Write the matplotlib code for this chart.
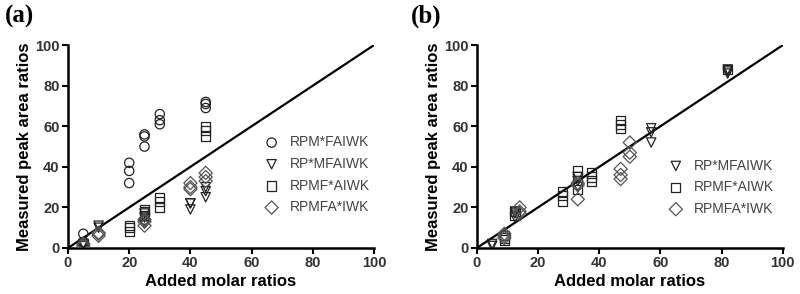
import matplotlib
matplotlib.use("Agg")
import matplotlib.pyplot as plt

plt.rcParams['font.family'] = ['Liberation Sans', 'DejaVu Sans']

# panel (a) data: added molar ratio (x) vs measured peak area ratio (y)
a_circ_x = [5, 5, 5, 20, 20, 20, 25, 25, 25, 25, 30, 30, 30, 45, 45, 45]
a_circ_y = [7, 2, 3, 32, 38, 42, 50, 55, 56, 14, 61, 63, 66, 69, 71, 72]
a_tri_x = [5, 5, 10, 10, 25, 25, 25, 40, 40, 40, 45, 45, 45]
a_tri_y = [1, 2, 10, 11, 12, 15, 17, 19, 22, 22, 25, 28, 30]
a_sq_x = [5, 5, 20, 20, 20, 25, 25, 25, 30, 30, 30, 45, 45, 45]
a_sq_y = [1, 2, 8, 10, 11, 16, 18, 19, 20, 23, 25, 55, 58, 60]
a_dia_x = [5, 5, 10, 10, 10, 25, 25, 25, 40, 40, 40, 45, 45, 45]
a_dia_y = [1, 2, 6, 7, 7.5, 11, 13, 14, 29, 30, 32, 33, 35, 37]

# panel (b) data
b_tri_x = [5, 5, 12.5, 12.5, 12.5, 33, 33, 33, 57, 57, 57, 82, 82, 82]
b_tri_y = [1, 2, 15, 17, 18, 30, 33, 35, 52, 57, 59, 86, 87, 88]
b_sq_x = [9, 9, 9, 12.5, 12.5, 28, 28, 28, 33, 33, 33, 37.5, 37.5, 37.5, 47, 47, 47, 82]
b_sq_y = [4, 5, 6, 16, 18, 23, 26, 28, 29, 35, 38, 33, 35, 37, 59, 61, 63, 88]
b_dia_x = [9, 9, 9, 14, 14, 14, 33, 33, 33, 47, 47, 47, 50, 50, 50]
b_dia_y = [5, 6, 7, 17, 18, 20, 24, 31, 32, 34, 36, 39, 45, 47, 52]

ticks = [0, 20, 40, 60, 80, 100]

fig = plt.figure(figsize=(8, 2.94), dpi=100)
ax_a = fig.add_axes([0.085, 0.1565, 0.3825, 0.690])
ax_b = fig.add_axes([0.596, 0.1565, 0.3825, 0.690])


def style_axis(ax):
    ax.plot([0, 100], [0, 100], color='black', linewidth=1.6, zorder=1)
    ax.set_xlim(0, 100)
    ax.set_ylim(0, 100)
    ax.set_xticks(ticks)
    ax.set_yticks(ticks)
    for s in ['top', 'right']:
        ax.spines[s].set_visible(False)
    for s in ['left', 'bottom']:
        ax.spines[s].set_linewidth(1.8)
    ax.tick_params(width=1.5, length=4, labelsize=10.5, pad=2)
    for lab in ax.get_xticklabels() + ax.get_yticklabels():
        lab.set_fontweight('bold')
        lab.set_color('#333333')
    ax.set_xlabel('Added molar ratios', fontsize=12, fontweight='bold', labelpad=3)
    ax.set_ylabel('Measured peak area ratios', fontsize=12, fontweight='bold', labelpad=2)


kw = dict(facecolor='none', linewidths=0.9, s=45, zorder=3)

ax_a.scatter(a_circ_x, a_circ_y, marker='o', edgecolor='#222222', label='RPM*FAIWK', **kw)
ax_a.scatter(a_tri_x, a_tri_y, marker='v', edgecolor='#222222', label='RP*MFAIWK', **kw)
ax_a.scatter(a_sq_x, a_sq_y, marker='s', edgecolor='#222222', label='RPMF*AIWK', **kw)
ax_a.scatter(a_dia_x, a_dia_y, marker='D', edgecolor='#555555', label='RPMFA*IWK', **kw)

ax_b.scatter(b_tri_x, b_tri_y, marker='v', edgecolor='#222222', label='RP*MFAIWK', **kw)
ax_b.scatter(b_sq_x, b_sq_y, marker='s', edgecolor='#222222', label='RPMF*AIWK', **kw)
ax_b.scatter(b_dia_x, b_dia_y, marker='D', edgecolor='#555555', label='RPMFA*IWK', **kw)

style_axis(ax_a)
style_axis(ax_b)

leg_kw = dict(frameon=False, scatterpoints=1, fontsize=10, handlelength=1.0,
              handletextpad=0.8, labelspacing=0.55, borderpad=0, loc='upper left')
leg_a = ax_a.legend(bbox_to_anchor=(0.62, 0.59), **leg_kw)
leg_b = ax_b.legend(bbox_to_anchor=(0.605, 0.475), **leg_kw)
for leg in (leg_a, leg_b):
    for t in leg.get_texts():
        t.set_color('#444444')

fig.text(0.006, 0.985, '(a)', fontsize=18, fontweight='bold', family='Liberation Serif', va='top')
fig.text(0.513, 0.985, '(b)', fontsize=18, fontweight='bold', family='Liberation Serif', va='top')

fig.savefig('out.png', dpi=100)
